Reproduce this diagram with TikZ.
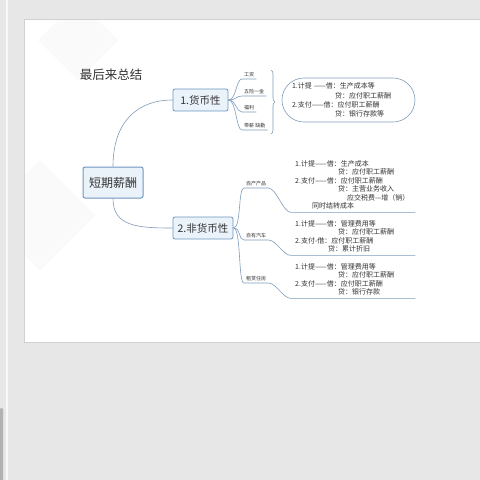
\documentclass[tikz,border=0pt]{standalone}
\usepackage{fontspec}
\setmainfont{Noto Sans CJK SC}
\usepackage{tikz}
\usetikzlibrary{calc}
\usetikzlibrary{positioning}
\usetikzlibrary{decorations.pathreplacing}
\definecolor{deskgray}{HTML}{E7E7E7}
\definecolor{linkblue}{HTML}{7F9DBB}
\definecolor{boxfill}{HTML}{EAF2FA}
\definecolor{boxline}{HTML}{7097BD}
\definecolor{txt}{HTML}{333333}
\tikzstyle{topic} = [rectangle, rounded corners=2pt, draw=boxline, fill=boxfill, thick, text=txt, inner sep=0pt]
\tikzstyle{leaf} = [anchor=west, inner xsep=2pt, inner ysep=1.5pt, font=\fontsize{5}{6}\selectfont, text=txt]
\tikzstyle{entry} = [anchor=north west, align=left, text width=116pt, inner xsep=4pt, inner ysep=3pt, font=\fontsize{7}{8.5}\selectfont, text=txt]
\tikzstyle{link} = [draw=linkblue, semithick]

\begin{document}
\begin{tikzpicture}[x=1pt, y=-1pt]
\useasboundingbox (0,0) rectangle (480,480);
% window and slide
\fill [deskgray] (0,0) rectangle (480,480);
\fill [white!70!deskgray] (6,0) rectangle (8,480);
\fill [black!30, rounded corners=1pt] (0,408) rectangle (3,482);
\fill [black!18] (24,19) rectangle (480,343);
\fill [white] (25,20) rectangle (480,342);
\begin{scope}
\clip (25,20) rectangle (480,342);
\fill [black!2] (78,0) -- (118,40) -- (78,80) -- (38,40) -- cycle;
\fill [black!2] (40,160) -- (95,215) -- (40,270) -- (-15,215) -- cycle;
\end{scope}

\node [font=\fontsize{12.5}{12.5}\selectfont, text=txt, inner sep=0pt] (title) at (111,75) {最后来总结};

\node [topic, minimum width=60pt, minimum height=31pt, line width=1pt, font=\fontsize{12}{12}\selectfont] (root) at (113,182.5) {短期薪酬};
\node [topic, minimum width=55pt, minimum height=22pt, font=\fontsize{10.5}{10.5}\selectfont] (mon) at (200.5,100) {1.货币性};
\node [topic, minimum width=60pt, minimum height=22pt, font=\fontsize{10.5}{10.5}\selectfont] (nonmon) at (203,228) {2.非货币性};

\draw [link] (root.north) .. controls +(0,-45) and +(-35,0) .. (mon.west);
\draw [link] (root.south) .. controls +(0,28) and +(-35,0) .. (nonmon.west);

% monetary branch
\node [leaf] (wage) at (242,75) {工资};
\node [leaf] (fund) at (242,92) {五险一金};
\node [leaf] (welfare) at (242,108) {福利};
\node [leaf] (leave) at (242,126) {带薪 缺勤};
\foreach \n in {wage,fund,welfare,leave}
  \draw [link] (mon.east) .. controls +(8,0) and +(-6,0) .. (\n.south west) -- (\n.south east);

\coordinate (bracetop) at (271,70);
\coordinate (bracebot) at (271,134);
\draw [link, decorate, decoration={brace, amplitude=4pt}] (bracetop) -- (bracebot);

\node [draw=linkblue, semithick, rounded corners=22pt, minimum height=44pt, text width=113pt, inner xsep=10pt, align=left, font=\fontsize{7}{9.3}\selectfont, text=txt] (cashbox) at (348.5,100) {1.计提 ——借：生产成本等\\
\hspace*{43pt}贷：应付职工薪酬\\
2.支付——借：应付职工薪酬\\
\hspace*{43pt}贷：银行存款等};

% non-monetary branch
\node [leaf] (own) at (244,184) {自产产品};
\node [leaf] (car) at (244,236) {自有汽车};
\node [leaf] (house) at (244,279) {租赁住房};

\node [entry] (prod) at (291,157) {1.计提——借：生产成本\\
\hspace*{43pt}贷：应付职工薪酬\\
2.支付——借：应付职工薪酬\\
\hspace*{43pt}贷：主营业务收入\\
\hspace*{52pt}应交税费—增（销）\\
\hspace*{17pt}同时结转成本};
\node [entry] (auto) at (291,217) {1.计提——借：管理费用等\\
\hspace*{43pt}贷：应付职工薪酬\\
2.支付-借：应付职工薪酬\\
\hspace*{33pt}贷：累计折旧};
\node [entry] (rent) at (291,260) {1.计提——借：管理费用等\\
\hspace*{43pt}贷：应付职工薪酬\\
2.支付——借：应付职工薪酬\\
\hspace*{43pt}贷：银行存款};

\draw [link] (nonmon.east) .. controls +(8,0) and +(-6,0) .. (own.south west) -- (own.south east) .. controls +(8,0) and +(-8,0) .. (prod.south west) -- (prod.south east);
\draw [link] (nonmon.east) .. controls +(8,0) and +(-6,0) .. (car.south west) -- (car.south east) .. controls +(8,0) and +(-8,0) .. (auto.south west) -- (auto.south east);
\draw [link] (nonmon.east) .. controls +(8,0) and +(-6,0) .. (house.south west) -- (house.south east) .. controls +(8,0) and +(-8,0) .. (rent.south west) -- (rent.south east);
\end{tikzpicture}
\end{document}
